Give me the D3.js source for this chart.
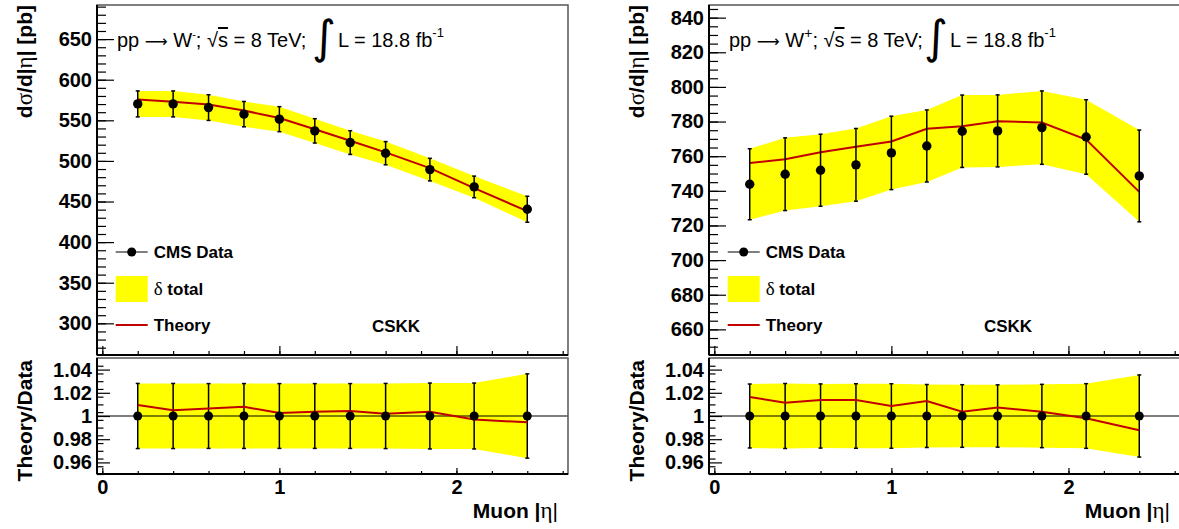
<!DOCTYPE html>
<html>
<head>
<meta charset="utf-8">
<script src="https://cdn.jsdelivr.net/npm/d3@7"></script>
<style>
  body { margin: 0; background: #fff; }
  svg { display: block; }
</style>
</head>
<body>
<div class="canvas"></div>
<script>
const width = 1179
const height = 529
const sansFont = 'Liberation Sans, Arial, sans-serif'
const greekFont = 'Liberation Serif, serif'
const redColor = '#c00000'

// muon |eta| bin centres
const etaBins = [0.2, 0.4, 0.6, 0.8, 1.0, 1.2, 1.4, 1.6, 1.85, 2.1, 2.4]

// W- : CMS data, total uncertainty, theory (CSKK)  [pb]
const wMinusData = [570.2, 570.2, 565.7, 557.6, 551.4, 537.0, 522.6, 509.5, 489.3, 468.0, 440.5]
const wMinusErr = [16.0, 16.0, 15.8, 15.6, 15.4, 15.0, 14.6, 14.3, 13.9, 13.3, 16.0]
const wMinusTheory = [575.6, 573.0, 569.4, 562.0, 552.8, 539.0, 524.8, 510.5, 491.1, 466.6, 438.1]

// W+ : CMS data, total uncertainty, theory (CSKK)  [pb]
const wPlusData = [743.8, 749.6, 751.9, 755.0, 761.9, 765.9, 774.4, 774.6, 776.5, 771.1, 748.6]
const wPlusErr = [20.5, 21.0, 20.8, 21.0, 21.2, 20.8, 20.9, 20.8, 21.2, 21.5, 26.5]
const wPlusTheory = [756.0, 758.2, 762.3, 765.4, 768.5, 775.8, 777.3, 780.2, 779.4, 769.6, 739.4]

// tick labels
const xMajorTicks = [0, 1, 2]
const wMinusYTicks = [300, 350, 400, 450, 500, 550, 600, 650]
const wPlusYTicks = [660, 680, 700, 720, 740, 760, 780, 800, 820, 840]
const ratioTicks = [0.96, 0.98, 1, 1.02, 1.04]

// layout
const panelW = 471
const topY0 = 5, topY1 = 355
const ratY0 = 358, ratY1 = 474

const svg = d3.select('.canvas')
  .append('svg')
  .attr('width', width)
  .attr('height', height)
  .attr('viewBox', `0 0 ${width} ${height}`)

const panels = [
  {left: 97, sign: '-', data: wMinusData, err: wMinusErr, theory: wMinusTheory,
   yDomain: [261, 692], yTicks: wMinusYTicks, yMinor: 10},
  {left: 709, sign: '+', data: wPlusData, err: wPlusErr, theory: wPlusTheory,
   yDomain: [645.2, 847.3], yTicks: wPlusYTicks, yMinor: 5}
]

function styleAxis(g, size, weight) {
  g.attr('color', '#000')
  g.selectAll('.domain').remove()
  g.selectAll('text')
    .attr('font-family', sansFont)
    .attr('font-size', size)
    .attr('font-weight', weight)
    .attr('fill', '#000')
  g.selectAll('line').attr('stroke-width', 1.2)
}

function minorTicks(domain, step) {
  let out = []
  let v = Math.ceil(domain[0] / step) * step
  while (v <= domain[1] + 1e-9) { out.push(+v.toFixed(4)); v += step }
  return out
}

function drawPanel(p) {
  const g = svg.append('g')
  const x = d3.scaleLinear().domain([-0.03, 2.63]).range([p.left, p.left + panelW])
  const y = d3.scaleLinear().domain(p.yDomain).range([topY1, topY0])
  const yr = d3.scaleLinear().domain([0.95, 1.05]).range([ratY1, ratY0])

  const rows = etaBins.map((eta, i) => ({
    eta, val: p.data[i], err: p.err[i], th: p.theory[i],
    ratio: p.theory[i] / p.data[i], rerr: p.err[i] / p.data[i]
  }))

  // ---------- top panel ----------
  g.append('path')
    .datum(rows)
    .attr('fill', '#ffff00')
    .attr('d', d3.area().x(d => x(d.eta)).y0(d => y(d.val - d.err)).y1(d => y(d.val + d.err)))

  g.append('path')
    .datum(rows)
    .attr('fill', 'none')
    .attr('stroke', redColor)
    .attr('stroke-width', 2)
    .attr('d', d3.line().x(d => x(d.eta)).y(d => y(d.th)))

  const eb = g.append('g').attr('stroke', '#000').attr('stroke-width', 1.5)
  eb.selectAll('.bar').data(rows).enter().append('line')
    .attr('x1', d => x(d.eta)).attr('x2', d => x(d.eta))
    .attr('y1', d => y(d.val - d.err)).attr('y2', d => y(d.val + d.err))
  eb.selectAll('.capHi').data(rows).enter().append('line')
    .attr('x1', d => x(d.eta) - 2).attr('x2', d => x(d.eta) + 2)
    .attr('y1', d => y(d.val + d.err)).attr('y2', d => y(d.val + d.err))
  eb.selectAll('.capLo').data(rows).enter().append('line')
    .attr('x1', d => x(d.eta) - 2).attr('x2', d => x(d.eta) + 2)
    .attr('y1', d => y(d.val - d.err)).attr('y2', d => y(d.val - d.err))

  g.selectAll('.pt').data(rows).enter().append('circle')
    .attr('cx', d => x(d.eta)).attr('cy', d => y(d.val)).attr('r', 4.7).attr('fill', '#000')

  // frame
  g.append('rect')
    .attr('x', p.left).attr('y', topY0).attr('width', panelW).attr('height', topY1 - topY0)
    .attr('fill', 'none').attr('stroke', '#555').attr('stroke-width', 1.5)

  // y axis
  const yMajor = g.append('g').attr('transform', `translate(${p.left},0)`)
    .call(d3.axisLeft(y).tickValues(p.yTicks).tickSize(-17).tickPadding(5).tickSizeOuter(0))
  styleAxis(yMajor, 20, 'bold')
  const yMin = g.append('g').attr('transform', `translate(${p.left},0)`)
    .call(d3.axisLeft(y).tickValues(minorTicks(p.yDomain, p.yMinor)).tickSize(-9).tickFormat(''))
  styleAxis(yMin, 20, 'bold')

  // x axis (no labels)
  const xTop = g.append('g').attr('transform', `translate(0,${topY1})`)
    .call(d3.axisBottom(x).tickValues(xMajorTicks).tickSize(-9).tickFormat(''))
  styleAxis(xTop, 20, 'bold')
  const xTopMin = g.append('g').attr('transform', `translate(0,${topY1})`)
    .call(d3.axisBottom(x).tickValues(minorTicks([-0.03, 2.63], 0.2)).tickSize(-4).tickFormat(''))
  styleAxis(xTopMin, 20, 'bold')

  g.append('line').attr('x1', p.left).attr('x2', p.left).attr('y1', topY0).attr('y2', topY1)
    .attr('stroke', '#000').attr('stroke-width', 2)
  g.append('line').attr('x1', p.left).attr('x2', p.left + panelW).attr('y1', topY1).attr('y2', topY1)
    .attr('stroke', '#000').attr('stroke-width', 2)

  // y title
  const yt = g.append('text')
    .attr('transform', `translate(${p.left - 65},${topY0}) rotate(-90)`)
    .attr('text-anchor', 'end')
    .attr('font-family', sansFont).attr('font-size', 21).attr('font-weight', 'bold')
  yt.append('tspan').text('d')
  yt.append('tspan').attr('font-family', greekFont).attr('font-weight', 'normal').attr('font-size', 23).text('σ')
  yt.append('tspan').text('/d|')
  yt.append('tspan').attr('font-family', greekFont).attr('font-weight', 'normal').attr('font-size', 23).text('η')
  yt.append('tspan').text('| [pb]')

  // process label
  const t1 = g.append('text')
    .attr('x', p.left + 20).attr('y', 47)
    .attr('font-family', sansFont).attr('font-size', 20).attr('fill', '#000')
  t1.append('tspan').text('pp ')
  t1.append('tspan').attr('font-family', 'DejaVu Sans, sans-serif').attr('font-size', 16).text('⟶')
  t1.append('tspan').text(' W')
  t1.append('tspan').attr('font-size', p.sign === '+' ? 14 : 11).attr('dy', -9).text(p.sign)
  t1.append('tspan').attr('dy', 9).text('; √')
  t1.append('tspan').attr('text-decoration', 'overline').text('s')
  t1.append('tspan').text(' = 8 TeV;')

  g.append('text')
    .attr('x', p.left + 227).attr('y', 53)
    .attr('text-anchor', 'middle')
    .attr('font-family', 'DejaVu Sans, sans-serif').attr('font-size', 46)
    .text('∫')

  const t2 = g.append('text')
    .attr('x', p.left + 241).attr('y', 47)
    .attr('font-family', sansFont).attr('font-size', 20).attr('fill', '#000')
  t2.append('tspan').text('L = 18.8 fb')
  t2.append('tspan').attr('font-size', 13).attr('dy', -10).text('-1')

  // legend
  const lg = g.append('g').attr('font-family', sansFont).attr('font-size', 17).attr('font-weight', 'bold')
  const lx = p.left + 18.7
  lg.append('line').attr('x1', lx).attr('x2', lx + 32).attr('y1', 252).attr('y2', 252)
    .attr('stroke', '#000').attr('stroke-width', 1.2)
  lg.append('circle').attr('cx', lx + 16).attr('cy', 252).attr('r', 4.5).attr('fill', '#000')
  lg.append('text').attr('x', lx + 38).attr('y', 252).attr('dy', '0.36em').text('CMS Data')

  lg.append('rect').attr('x', lx).attr('y', 276).attr('width', 32).attr('height', 26).attr('fill', '#ffff00')
  const dl = lg.append('text').attr('x', lx + 38).attr('y', 289).attr('dy', '0.36em')
  dl.append('tspan').attr('font-family', greekFont).attr('font-weight', 'normal').attr('font-size', 19).text('δ')
  dl.append('tspan').text(' total')

  lg.append('line').attr('x1', lx).attr('x2', lx + 32).attr('y1', 325).attr('y2', 325)
    .attr('stroke', redColor).attr('stroke-width', 2)
  lg.append('text').attr('x', lx + 38).attr('y', 325).attr('dy', '0.36em').text('Theory')
  lg.append('text').attr('x', p.left + 299).attr('y', 326).attr('dy', '0.36em')
    .attr('text-anchor', 'middle').text('CSKK')

  // ---------- ratio panel ----------
  g.append('path')
    .datum(rows)
    .attr('fill', '#ffff00')
    .attr('d', d3.area().x(d => x(d.eta)).y0(d => yr(1 - d.rerr)).y1(d => yr(1 + d.rerr)))

  g.append('line')
    .attr('x1', p.left).attr('x2', p.left + panelW).attr('y1', yr(1)).attr('y2', yr(1))
    .attr('stroke', '#000').attr('stroke-width', 1.2)

  const rb = g.append('g').attr('stroke', '#000').attr('stroke-width', 1.5)
  rb.selectAll('.bar').data(rows).enter().append('line')
    .attr('x1', d => x(d.eta)).attr('x2', d => x(d.eta))
    .attr('y1', d => yr(1 - d.rerr)).attr('y2', d => yr(1 + d.rerr))
  rb.selectAll('.capHi').data(rows).enter().append('line')
    .attr('x1', d => x(d.eta) - 2).attr('x2', d => x(d.eta) + 2)
    .attr('y1', d => yr(1 + d.rerr)).attr('y2', d => yr(1 + d.rerr))
  rb.selectAll('.capLo').data(rows).enter().append('line')
    .attr('x1', d => x(d.eta) - 2).attr('x2', d => x(d.eta) + 2)
    .attr('y1', d => yr(1 - d.rerr)).attr('y2', d => yr(1 - d.rerr))

  g.append('path')
    .datum(rows)
    .attr('fill', 'none')
    .attr('stroke', redColor)
    .attr('stroke-width', 2)
    .attr('d', d3.line().x(d => x(d.eta)).y(d => yr(d.ratio)))

  g.selectAll('.rpt').data(rows).enter().append('circle')
    .attr('cx', d => x(d.eta)).attr('cy', yr(1)).attr('r', 4.5).attr('fill', '#000')

  g.append('rect')
    .attr('x', p.left).attr('y', ratY0).attr('width', panelW).attr('height', ratY1 - ratY0)
    .attr('fill', 'none').attr('stroke', '#555').attr('stroke-width', 1.5)

  const ryMaj = g.append('g').attr('transform', `translate(${p.left},0)`)
    .call(d3.axisLeft(yr).tickValues(ratioTicks).tickSize(-13).tickPadding(5).tickFormat(d => String(d)))
  styleAxis(ryMaj, 20, 'bold')
  const ryMin = g.append('g').attr('transform', `translate(${p.left},0)`)
    .call(d3.axisLeft(yr).tickValues(d3.range(0, 16).map(i => 0.95 + i * 0.02 / 3).filter(v => v < 1.05))
      .tickSize(-6.5).tickFormat(''))
  styleAxis(ryMin, 20, 'bold')

  const rxMaj = g.append('g').attr('transform', `translate(0,${ratY1})`)
    .call(d3.axisBottom(x).tickValues(xMajorTicks).tickSize(-6).tickPadding(6).tickFormat(d3.format('d')))
  styleAxis(rxMaj, 20, 'bold')
  const rxMin = g.append('g').attr('transform', `translate(0,${ratY1})`)
    .call(d3.axisBottom(x).tickValues(minorTicks([-0.03, 2.63], 0.2)).tickSize(-3).tickFormat(''))
  styleAxis(rxMin, 20, 'bold')

  g.append('line').attr('x1', p.left).attr('x2', p.left).attr('y1', ratY0).attr('y2', ratY1)
    .attr('stroke', '#000').attr('stroke-width', 2)
  g.append('line').attr('x1', p.left).attr('x2', p.left + panelW).attr('y1', ratY1).attr('y2', ratY1)
    .attr('stroke', '#000').attr('stroke-width', 2)

  g.append('text')
    .attr('transform', `translate(${p.left - 65},${ratY0 + 2}) rotate(-90)`)
    .attr('text-anchor', 'end')
    .attr('font-family', sansFont).attr('font-size', 21).attr('font-weight', 'bold')
    .text('Theory/Data')

  const xt = g.append('text')
    .attr('x', p.left + panelW - 10).attr('y', 518)
    .attr('text-anchor', 'end')
    .attr('font-family', sansFont).attr('font-size', 21).attr('font-weight', 'bold')
  xt.append('tspan').text('Muon |')
  xt.append('tspan').attr('font-family', greekFont).attr('font-weight', 'normal').attr('font-size', 23).text('η')
  xt.append('tspan').attr('font-weight', 'normal').text('|')
}

panels.forEach(drawPanel)
</script>
</body>
</html>
